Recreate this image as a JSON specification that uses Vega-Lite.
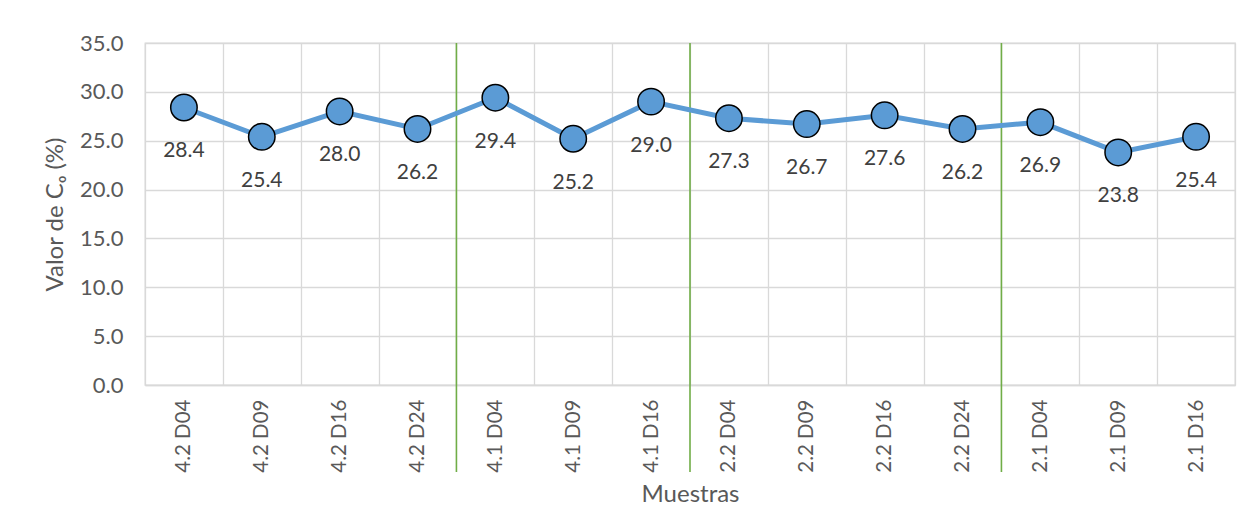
{
  "$schema": "https://vega.github.io/schema/vega-lite/v6.json",
  "width": 1090,
  "height": 342,
  "autosize": {"type": "none"},
  "padding": {"left": 145, "top": 43, "right": 18, "bottom": 130},
  "background": "white",
  "config": {
    "font": "Lato",
    "view": {"stroke": "#D9D9D9", "strokeWidth": 1.3}
  },
  "data": {
    "values": [
      {"muestra": "4.2 D04", "valor": 28.4, "inicio_grupo": false},
      {"muestra": "4.2 D09", "valor": 25.4, "inicio_grupo": false},
      {"muestra": "4.2 D16", "valor": 28.0, "inicio_grupo": false},
      {"muestra": "4.2 D24", "valor": 26.2, "inicio_grupo": false},
      {"muestra": "4.1 D04", "valor": 29.4, "inicio_grupo": true},
      {"muestra": "4.1 D09", "valor": 25.2, "inicio_grupo": false},
      {"muestra": "4.1 D16", "valor": 29.0, "inicio_grupo": false},
      {"muestra": "2.2 D04", "valor": 27.3, "inicio_grupo": true},
      {"muestra": "2.2 D09", "valor": 26.7, "inicio_grupo": false},
      {"muestra": "2.2 D16", "valor": 27.6, "inicio_grupo": false},
      {"muestra": "2.2 D24", "valor": 26.2, "inicio_grupo": false},
      {"muestra": "2.1 D04", "valor": 26.9, "inicio_grupo": true},
      {"muestra": "2.1 D09", "valor": 23.8, "inicio_grupo": false},
      {"muestra": "2.1 D16", "valor": 25.4, "inicio_grupo": false}
    ]
  },
  "encoding": {
    "x": {
      "field": "muestra",
      "type": "nominal",
      "scale": {
        "type": "band",
        "paddingInner": 0,
        "paddingOuter": 0,
        "domain": ["4.2 D04", "4.2 D09", "4.2 D16", "4.2 D24", "4.1 D04", "4.1 D09", "4.1 D16", "2.2 D04", "2.2 D09", "2.2 D16", "2.2 D24", "2.1 D04", "2.1 D09", "2.1 D16"]
      },
      "axis": {
        "title": "Muestras",
        "titleFontSize": 24,
        "titleFontWeight": "normal",
        "titleColor": "#595959",
        "titlePadding": 10,
        "labelAngle": -90,
        "labelFontSize": 20.5,
        "labelColor": "#595959",
        "labelPadding": 14,
        "ticks": false,
        "tickBand": "extent",
        "grid": true,
        "gridColor": "#D9D9D9",
        "gridWidth": 1.3,
        "domainColor": "#D9D9D9",
        "domainWidth": 1.3
      }
    },
    "y": {
      "field": "valor",
      "type": "quantitative",
      "scale": {"domain": [0, 35], "nice": false},
      "axis": {
        "title": "Valor de Cₒ (%)",
        "titleFontSize": 24,
        "titleFontWeight": "normal",
        "titleColor": "#595959",
        "titlePadding": 12,
        "values": [0, 5, 10, 15, 20, 25, 30, 35],
        "format": ".1f",
        "labelFontSize": 22,
        "labelColor": "#595959",
        "labelPadding": 22,
        "ticks": false,
        "domain": false,
        "grid": true,
        "gridColor": "#D9D9D9",
        "gridWidth": 1.3
      }
    }
  },
  "layer": [
    {
      "transform": [{"filter": "datum.inicio_grupo"}],
      "mark": {"type": "rule", "stroke": "#70AD47", "strokeWidth": 1.6},
      "encoding": {
        "x": {"field": "muestra", "type": "nominal", "bandPosition": 0},
        "y": {"datum": 35, "type": "quantitative"},
        "y2": {"datum": -8.9}
      }
    },
    {
      "mark": {"type": "line", "color": "#5B9BD5", "strokeWidth": 5}
    },
    {
      "mark": {"type": "point", "filled": true, "size": 700, "fill": "#5B9BD5", "stroke": "#000000", "strokeWidth": 1.5, "opacity": 1}
    },
    {
      "mark": {"type": "text", "dy": 44, "fontSize": 21, "color": "#404040"},
      "encoding": {"text": {"field": "valor", "type": "quantitative", "format": ".1f"}}
    }
  ]
}
